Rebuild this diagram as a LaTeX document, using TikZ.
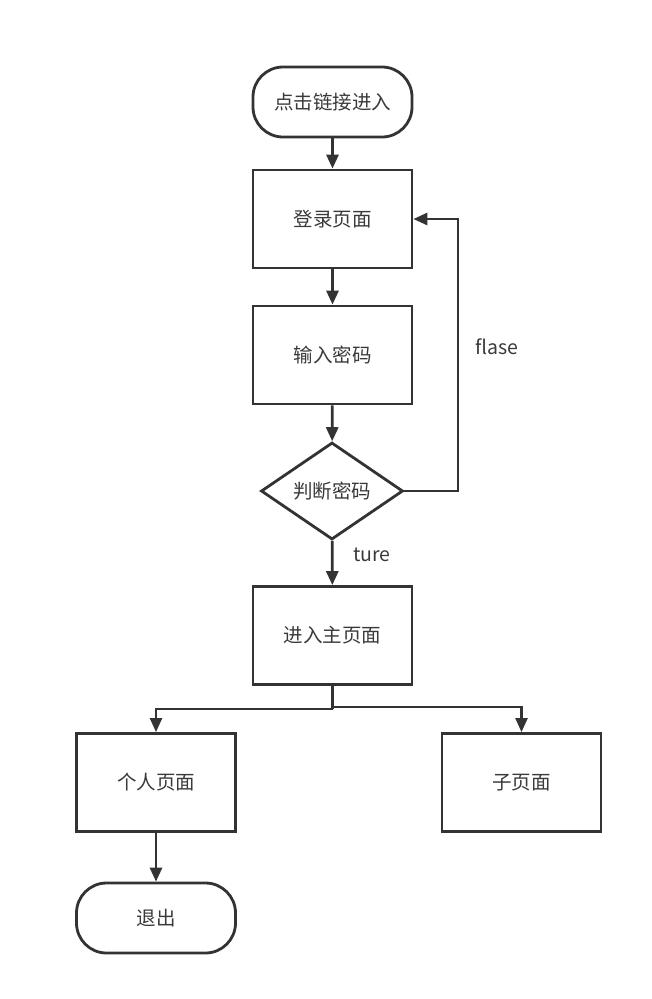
\documentclass[tikz,border=0pt]{standalone}
\usepackage{fontspec}
\setmainfont{Noto Sans CJK SC}
\usetikzlibrary{arrows.meta,shapes.geometric,positioning}
\definecolor{ln}{HTML}{333333}
\definecolor{tx}{HTML}{3A3A3A}
\tikzset{
  every node/.style={font=\fontsize{19.5}{23}\selectfont, text=tx},
  procbox/.style={draw=ln, line width=2.8pt, fill=white, rectangle, minimum width=159pt, minimum height=98pt, inner sep=0pt},
  termbox/.style={draw=ln, line width=2.8pt, fill=white, rectangle, rounded corners=30pt, minimum width=159pt, minimum height=70pt, inner sep=0pt},
  decbox/.style={draw=ln, line width=2.8pt, fill=white, diamond, aspect=1.46, minimum width=142pt, minimum height=97pt, inner sep=0pt},
  conn/.style={draw=ln, line width=2.8pt, -{Triangle[length=14pt,width=12pt]}},
  forkconn/.style={draw=ln, line width=2.2pt, -{Triangle[length=14pt,width=12pt]}},
  plainconn/.style={draw=ln, line width=2.2pt},
  lbl/.style={font=\fontsize{19.5}{23}\selectfont, text=tx, inner sep=0pt}
}
\begin{document}
\begin{tikzpicture}[x=1pt,y=-1pt]
\useasboundingbox (0,0) rectangle (652,999);
\node[termbox] (start) at (332.5,102) {点击链接进入};
\node[procbox] (login) at (332.5,219) {登录页面};
\node[procbox] (pwd) at (332.5,355) {输入密码};
\node[decbox] (judge) at (332,491) {判断密码};
\node[procbox] (main) at (332.5,635.5) {进入主页面};
\node[procbox] (personal) at (156,782.5) {个人页面};
\node[procbox] (sub) at (521.5,782.5) {子页面};
\node[termbox] (exit) at (156,918) {退出};

\coordinate (loopc) at (458,491);
\coordinate (forkL) at (332.5,709);
\coordinate (forkR) at (332.5,707);

\draw[conn] (start) -- (login);
\draw[conn] (login) -- (pwd);
\draw[conn] (pwd) -- (judge);
\draw[conn] (judge.east) -- (loopc) |- (login.east);
\draw[conn] (judge) -- (main);
\draw[plainconn] (main.south) -- (forkL);
\draw[forkconn] (forkL) -| (personal.north);
\draw[forkconn] (forkR) -| (sub.north);
\draw[conn] (personal) -- (exit);

\node[lbl] (flase) at (497,347) {flase};
\node[lbl] (ture) at (372,555) {ture};
\end{tikzpicture}
\end{document}
